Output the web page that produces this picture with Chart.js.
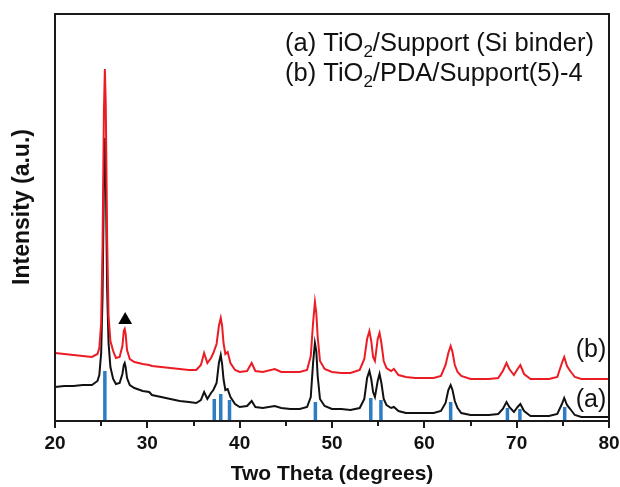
<!DOCTYPE html>
<html>
<head>
<meta charset="utf-8">
<script src="https://cdn.jsdelivr.net/npm/chart.js@4.4.0/dist/chart.umd.min.js"></script>
<style>
  body { margin: 0; background: #fff; }
  #chartXrd { display: block; }
</style>
</head>
<body>
<canvas id="chartXrd" width="620" height="487"></canvas>
<script>
/* Datos */
const twoTheta = [
  20, 21, 22, 23, 24, 24.6, 24.8, 25.0, 25.15, 25.3, 25.4, 25.5, 25.65, 25.8, 26.0, 26.3, 26.6,
  27.0, 27.3, 27.45, 27.55, 27.65, 27.8, 28.1, 28.6, 29.5, 30.2, 30.5, 31.5, 32.5, 33.5, 34.5, 35.3,
  35.8, 36.15, 36.5, 36.9, 37.15, 37.5, 37.75, 37.95, 38.1, 38.25, 38.45, 38.7, 39.0, 39.5, 40.0,
  40.8, 41.3, 41.7, 42.5, 43.8, 44.5, 45.5, 46.5, 47.3, 47.7, 47.95, 48.15, 48.3, 48.45, 48.7,
  49.2, 50, 51, 52, 53.0, 53.5, 53.8, 54.05, 54.25, 54.45, 54.65, 54.95, 55.15, 55.35, 55.6, 55.9, 56.4,
  56.7, 57.2, 58, 59, 60, 61, 61.8, 62.3, 62.6, 62.85, 63.05, 63.3, 63.6, 64.0, 65, 66, 67, 68.0,
  68.5, 68.9, 69.2, 69.7, 70.1, 70.4, 70.8, 71.5, 72.5, 73.5, 74.4, 74.9, 75.15, 75.45,
  75.8, 76.3, 77, 78, 79, 80
];
const intensityA = [
  34, 35, 35, 36, 36, 40, 46, 68, 125, 240, 283, 245, 130, 78, 54, 42, 37,
  38, 47, 56, 58, 54, 43, 36, 33, 30, 29, 26, 24, 22, 20, 19, 18,
  21, 29, 22, 28, 31, 38, 58, 66, 57, 42, 31, 32, 24, 17, 14,
  15, 20, 14, 13, 15, 13, 12, 12, 14, 24, 58, 78, 70, 45, 22,
  15, 12, 12, 11, 13, 22, 43, 50, 42, 29, 24, 40, 47, 38, 22, 16, 13,
  14, 10, 8, 8, 8, 8, 10, 18, 31, 36, 31, 20, 13, 8, 6, 6, 6, 7,
  12, 19, 14, 9, 14, 17, 10, 5, 5, 5, 7, 17, 23, 16,
  12, 6, 4, 4, 4, 4
];
const intensityB = [
  68, 67, 66, 65, 64, 67, 73, 98, 175, 310, 352, 315, 180, 105, 80, 70, 63,
  64, 75, 90, 92, 87, 71, 62, 59, 57, 56, 55, 54, 53, 52, 51, 51,
  56, 68, 58, 63, 68, 77, 95, 103, 95, 78, 67, 69, 58, 51, 49,
  50, 58, 50, 49, 52, 49, 49, 49, 51, 65, 98, 119, 108, 84, 60,
  52, 49, 48, 48, 51, 62, 82, 90, 80, 64, 60, 82, 88, 78, 60, 53, 50,
  52, 46, 44, 43, 43, 43, 45, 56, 68, 75, 69, 56, 49, 45, 42, 42, 42, 43,
  50, 58, 52, 46, 52, 56, 47, 42, 42, 42, 44, 58, 64, 55,
  50, 44, 42, 42, 42, 42
];

/* Picos de referencia (anatasa) */
const refTheta = [25.4, 37.25, 37.95, 38.9, 48.2, 54.2, 55.3, 62.85, 69.0, 70.35, 75.2];
const refHeight = [50, 22, 27, 21, 19, 23, 21, 19, 13, 12, 14];

/* Marcador triangulo */
const markerTheta = [27.6];
const markerIntensity = [101];

const xTicks = [20, 30, 40, 50, 60, 70, 80];
const seriesLabels = ['(a)', '(b)'];

const toPoints = (xs, ys) => xs.map((x, i) => ({ x: x, y: ys[i] }));

let refPoints = [];
for (let i in refTheta) {
  refPoints.push({ x: refTheta[i], y: 0 });
  refPoints.push({ x: refTheta[i], y: refHeight[i] });
  refPoints.push({ x: refTheta[i], y: null });
}

/* Marco, ticks y textos */
const framePlugin = {
  id: 'framePlugin',
  afterDraw: (chart) => {
    const ctx = chart.ctx;
    const a = chart.chartArea;
    const xs = chart.scales.x;
    const ys = chart.scales.y;
    ctx.save();
    ctx.strokeStyle = '#1a1a1a';
    ctx.lineWidth = 2;
    ctx.strokeRect(a.left, a.top, a.right - a.left, a.bottom - a.top);

    for (let v = 20; v <= 80; v += 5) {
      let px = Math.round(xs.getPixelForValue(v));
      let len = v % 10 === 0 ? 7 : 5;
      ctx.beginPath();
      ctx.moveTo(px, a.bottom);
      ctx.lineTo(px, a.bottom + len);
      ctx.stroke();
    }

    /* Leyenda con subindice */
    const drawSub = (parts, x, y) => {
      ctx.fillStyle = '#111';
      ctx.textBaseline = 'alphabetic';
      ctx.textAlign = 'left';
      let cx = x;
      parts.forEach((p) => {
        if (p.sub) {
          ctx.font = '17px "Liberation Sans", Arial, sans-serif';
          ctx.fillText(p.t, cx, y + 6);
        } else {
          ctx.font = '25.5px "Liberation Sans", Arial, sans-serif';
          ctx.fillText(p.t, cx, y);
        }
        cx += ctx.measureText(p.t).width;
      });
    };
    drawSub([{ t: '(a) TiO' }, { t: '2', sub: true }, { t: '/Support (Si binder)' }], 285, 51);
    drawSub([{ t: '(b) TiO' }, { t: '2', sub: true }, { t: '/PDA/Support(5)-4' }], 285, 81);

    ctx.font = '25px "Liberation Sans", Arial, sans-serif';
    ctx.fillText(seriesLabels[0], xs.getPixelForValue(76.4), ys.getPixelForValue(14));
    ctx.fillText(seriesLabels[1], xs.getPixelForValue(76.4), ys.getPixelForValue(64));

    /* Titulo eje Y */
    ctx.translate(23, 207);
    ctx.rotate(-Math.PI / 2);
    ctx.textAlign = 'center';
    ctx.textBaseline = 'middle';
    ctx.font = 'bold 23px "Liberation Sans", Arial, sans-serif';
    ctx.fillText('Intensity (a.u.)', 0, 0);
    ctx.restore();
  },
};

const ctxXrd = document.getElementById('chartXrd').getContext('2d');
const chartXrd = new Chart(ctxXrd, {
  type: 'line',
  plugins: [framePlugin],
  data: {
    datasets: [
      {
        type: 'scatter',
        data: toPoints(markerTheta, markerIntensity),
        pointStyle: 'triangle',
        pointRadius: 8,
        backgroundColor: '#000',
        borderColor: '#000',
        borderWidth: 0,
        order: 0,
      },
      {
        data: refPoints,
        borderColor: '#2e7cc4',
        borderWidth: 3.5,
        borderCapStyle: 'butt',
        pointRadius: 0,
        spanGaps: false,
        order: 1,
      },
      {
        data: toPoints(twoTheta, intensityB),
        borderColor: '#ec1c24',
        borderWidth: 2,
        pointRadius: 0,
        tension: 0,
        order: 2,
      },
      {
        data: toPoints(twoTheta, intensityA),
        borderColor: '#111',
        borderWidth: 2,
        pointRadius: 0,
        tension: 0,
        order: 3,
      },
    ],
  },
  options: {
    responsive: false,
    animation: false,
    layout: { padding: { top: 14, right: 11, left: 0, bottom: 0 } },
    plugins: {
      legend: { display: false },
      tooltip: { enabled: false },
    },
    scales: {
      x: {
        type: 'linear',
        min: 20,
        max: 80,
        offset: false,
        grid: { display: false },
        border: { display: false },
        afterFit: (s) => {
          s.height = 66;
          s.paddingLeft = 0;
          s.paddingRight = 0;
        },
        afterBuildTicks: (s) => { s.ticks = xTicks.map((v) => ({ value: v })); },
        ticks: {
          autoSkip: false,
          maxRotation: 0,
          padding: 3,
          color: '#111',
          font: { family: '"Liberation Sans", Arial', size: 19, weight: 'bold' },
        },
        title: {
          display: true,
          text: 'Two Theta (degrees)',
          color: '#111',
          padding: { top: 11, bottom: 0 },
          font: { family: '"Liberation Sans", Arial', size: 21, weight: 'bold' },
        },
      },
      y: {
        min: 0,
        max: 407,
        grid: { display: false },
        border: { display: false },
        ticks: { display: false },
        afterFit: (s) => {
          s.width = 55;
          s.paddingTop = 0;
          s.paddingBottom = 0;
        },
        title: { display: false },
      },
    },
  },
});
</script>
</body>
</html>
